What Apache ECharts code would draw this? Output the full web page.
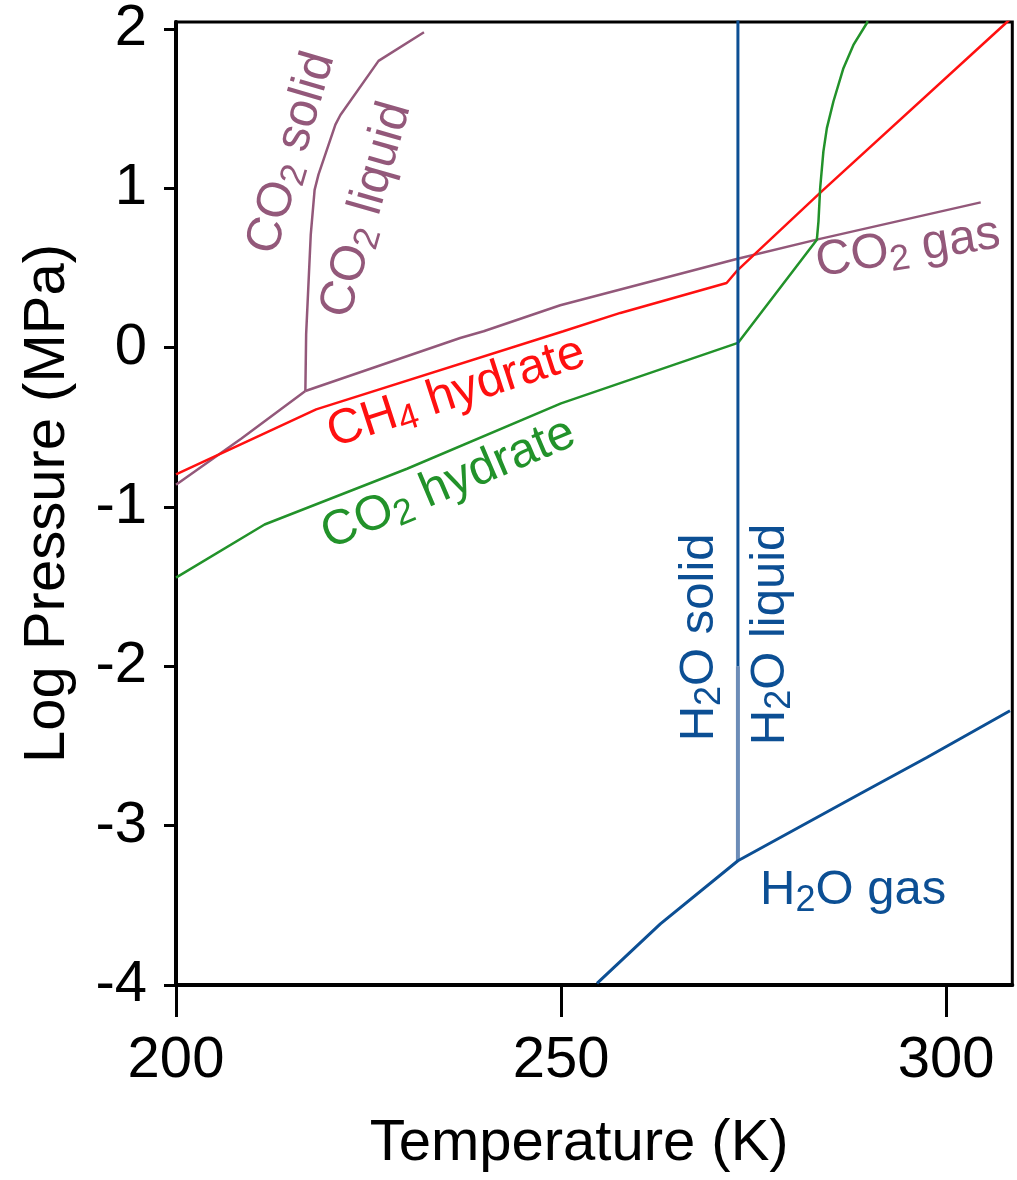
<!DOCTYPE html>
<html>
<head>
<meta charset="utf-8">
<script src="https://cdn.jsdelivr.net/npm/echarts@6.0.0/dist/echarts.min.js"></script>
<style>
html,body{margin:0;padding:0;background:#fff;}
#chart{width:1017px;height:1180px;}
</style>
</head>
<body>
<div id="chart"></div>
<script>
// ---- axes ----
const xTicks = [200, 250, 300];
const yTicks = [-4, -3, -2, -1, 0, 1, 2];
const xRange = [200, 308.6];
const yRange = [-4, 2.044];

// ---- phase boundaries: [Temperature (K), log10 P (MPa)] ----
const co2Sublimation = [[200.0, -0.86], [208.5, -0.57], [216.8, -0.272]];
const co2Melting = [[216.8, -0.272], [216.9, 0.085], [217.5, 0.71], [218.0, 0.99], [218.5, 1.086],
                    [220.7, 1.40], [221.35, 1.46], [226.3, 1.80], [232.2, 1.98]];
const co2Vaporization = [[216.8, -0.272], [236.9, 0.061], [239.95, 0.103], [249.9, 0.266],
                         [272.8, 0.557], [283.2, 0.678], [304.5, 0.912]];
const ch4Hydrate = [[200.0, -0.795], [212.26, -0.52], [218.2, -0.387], [250.3, 0.103], [257.7, 0.218],
                    [271.5, 0.406], [272.8, 0.48], [283.6, 0.97], [307.6, 2.03], [308.6, 2.075]];
const co2Hydrate = [[200.0, -1.443], [211.5, -1.11], [230.0, -0.76], [250.0, -0.35], [272.97, 0.03],
                    [283.22, 0.678], [283.43, 0.793], [283.65, 1.002], [284.07, 1.232], [284.52, 1.378],
                    [285.37, 1.545], [286.67, 1.754], [287.97, 1.90], [289.7, 2.036], [289.8, 2.05]];
const h2oMeltingLow = [[272.97, -3.22], [272.97, -2.0]];
const h2oMeltingHigh = [[272.97, -2.0], [272.97, 2.06]];
const h2oSublVap = [[254.67, -3.99], [262.9, -3.616], [272.97, -3.22], [288.84, -2.80],
                    [297.5, -2.572], [308.3, -2.279]];

// ---- region / curve labels ----
const labelTexts = ['{n|CO}{s|2}{n| solid}', '{n|CO}{s|2}{n| liquid}', '{n|CO}{s|2}{n| gas}',
                    '{n|CH}{s|4}{n| hydrate}', '{n|CO}{s|2}{n| hydrate}',
                    '{n|H}{s|2}{n|O solid}', '{n|H}{s|2}{n|O liquid}', '{n|H}{s|2}{n|O gas}'];
const labelT = [215.0, 224.72, 295.06, 236.4, 235.4, 268.0, 277.15, 287.93];
const labelP = [1.222, 0.865, 0.624, -0.285, -0.856, -1.818, -1.80, -3.408];

// ---- styles ----
const FONT = "'Liberation Sans', Arial, Helvetica, sans-serif";
const C_CO2 = '#93587a';
const C_CH4 = '#ff1010';
const C_HYD = '#22922a';
const C_H2O = '#0c4f94';
const C_H2O_LIGHT = '#6d8db8';
const labelStyle = [
  {color: C_CO2, rotate: 73.6},
  {color: C_CO2, rotate: 74},
  {color: C_CO2, rotate: 9},
  {color: C_CH4, rotate: 18},
  {color: C_HYD, rotate: 23},
  {color: C_H2O, rotate: 90},
  {color: C_H2O, rotate: 90},
  {color: C_H2O, rotate: 0}
];

function lineSeries(data, color, width) {
  return {
    type: 'line', data: data, showSymbol: false, symbol: 'none', silent: true,
    clip: true, smooth: false,
    lineStyle: {color: color, width: width},
    z: 3
  };
}

const labelData = labelTexts.map((t, i) => ({
  value: [labelT[i], labelP[i]],
  label: {
    show: true, position: 'inside', formatter: t, opacity: 1,
    rotate: labelStyle[i].rotate, color: labelStyle[i].color,
    align: 'center', verticalAlign: 'middle',
    fontFamily: FONT,
    rich: {
      n: {fontSize: 49, lineHeight: 56, fontFamily: FONT, color: labelStyle[i].color},
      s: {fontSize: 36, lineHeight: 27, verticalAlign: 'bottom', fontFamily: FONT, color: labelStyle[i].color}
    }
  }
}));

const chart = echarts.init(document.getElementById('chart'), null, {renderer: 'canvas'});
chart.setOption({
  animation: false,
  backgroundColor: '#fff',
  grid: {left: 176, right: 4.7, top: 21.3, bottom: 195, show: true, borderColor: '#000', borderWidth: 3, backgroundColor: 'transparent'},
  xAxis: {
    type: 'value', min: xRange[0], max: xRange[1],
    axisLine: {show: true, onZero: false, lineStyle: {color: '#000', width: 4}},
    axisTick: {show: true, length: 32, lineStyle: {color: '#000', width: 3}, customValues: xTicks},
    axisLabel: {customValues: xTicks, fontSize: 58, color: '#000', margin: 47, fontFamily: FONT},
    splitLine: {show: false},
    name: 'Temperature (K)', nameLocation: 'middle', nameGap: 130,
    nameTextStyle: {fontSize: 58, color: '#000', fontFamily: FONT, padding: [0, 30, 0, 0]}
  },
  yAxis: {
    type: 'value', min: yRange[0], max: yRange[1],
    axisLine: {show: true, onZero: false, lineStyle: {color: '#000', width: 4}},
    axisTick: {show: true, length: 12, lineStyle: {color: '#000', width: 3}, customValues: yTicks},
    axisLabel: {customValues: yTicks, fontSize: 58, color: '#000', margin: 29, fontFamily: FONT},
    splitLine: {show: false},
    name: 'Log Pressure (MPa)', nameLocation: 'middle', nameGap: 99,
    nameTextStyle: {fontSize: 58, color: '#000', fontFamily: FONT}
  },
  series: [
    lineSeries(co2Sublimation, C_CO2, 2.5),
    lineSeries(co2Melting, C_CO2, 2.5),
    lineSeries(co2Vaporization, C_CO2, 2.5),
    lineSeries(ch4Hydrate, C_CH4, 2.5),
    lineSeries(co2Hydrate, C_HYD, 2.5),
    lineSeries(h2oMeltingLow, C_H2O_LIGHT, 4),
    lineSeries(h2oMeltingHigh, C_H2O, 3),
    lineSeries(h2oSublVap, C_H2O, 3),
    {
      type: 'scatter', data: labelData, symbolSize: 0, silent: true,
      itemStyle: {color: '#fff', opacity: 1}, z: 4
    }
  ]
});
</script>
</body>
</html>
